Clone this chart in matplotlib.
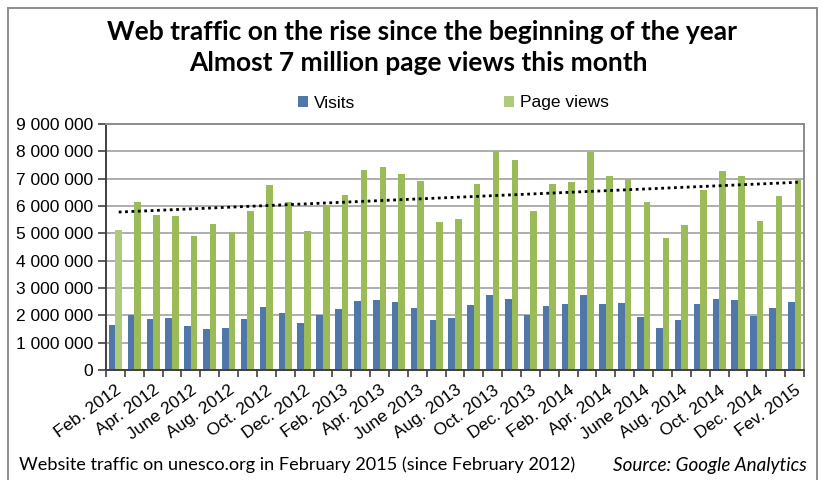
import numpy as np
import matplotlib
matplotlib.use("Agg")
import matplotlib.pyplot as plt
from matplotlib.patches import Rectangle
from matplotlib.ticker import FuncFormatter

# Monthly traffic, Feb. 2012 - Feb. 2015
months = [
    "Feb. 2012", "Mar. 2012", "Apr. 2012", "May 2012", "June 2012", "July 2012",
    "Aug. 2012", "Sep. 2012", "Oct. 2012", "Nov. 2012", "Dec. 2012", "Jan. 2013",
    "Feb. 2013", "Mar. 2013", "Apr. 2013", "May 2013", "June 2013", "July 2013",
    "Aug. 2013", "Sep. 2013", "Oct. 2013", "Nov. 2013", "Dec. 2013", "Jan. 2014",
    "Feb. 2014", "Mar. 2014", "Apr. 2014", "May 2014", "June 2014", "July 2014",
    "Aug. 2014", "Sep. 2014", "Oct. 2014", "Nov. 2014", "Dec. 2014", "Jan. 2015",
    "Fev. 2015",
]

visits = [
    1660000, 2020000, 1860000, 1920000, 1610000, 1490000, 1530000, 1880000,
    2300000, 2090000, 1720000, 2030000, 2240000, 2520000, 2550000, 2480000,
    2270000, 1840000, 1910000, 2380000, 2740000, 2610000, 2010000, 2330000,
    2410000, 2730000, 2410000, 2450000, 1950000, 1520000, 1840000, 2410000,
    2610000, 2570000, 1990000, 2270000, 2500000,
]

page_views = [
    5130000, 6140000, 5660000, 5640000, 4910000, 5330000, 5050000, 5810000,
    6760000, 6140000, 5080000, 6030000, 6410000, 7320000, 7420000, 7170000,
    6910000, 5400000, 5520000, 6810000, 8030000, 7690000, 5800000, 6810000,
    6880000, 7990000, 7090000, 7000000, 6130000, 4820000, 5310000, 6600000,
    7270000, 7100000, 5440000, 6360000, 6990000,
]

y_ticks = list(range(0, 9000001, 1000000))

BLUE = "#4F77AA"
GREEN = "#9BBB59"
GREEN_LIGHT = "#AECB7C"

W, H, DPI = 824, 480, 100
fig = plt.figure(figsize=(W / DPI, H / DPI), dpi=DPI)
fig.patch.set_facecolor("white")

ax = fig.add_axes([106 / W, 1 - 370 / H, (804 - 106) / W, (370 - 124) / H])

x = np.arange(len(months))
bw = 0.35
green_colors = [GREEN_LIGHT] + [GREEN] * (len(months) - 1)
ax.bar(x - bw / 2, visits, width=bw, color=BLUE, label="Visits", zorder=2)
ax.bar(x + bw / 2, page_views, width=bw, color=green_colors, label="Page views", zorder=2)

# Linear trend of page views
coef = np.polyfit(x, page_views, 1)
trend = np.polyval(coef, x)
ax.plot(x + bw / 2, trend, color="black", linestyle=(0, (1, 1.3)), linewidth=2.0, zorder=3)

ax.set_xlim(-0.5, len(months) - 0.5)
ax.set_ylim(0, 9000000)
ax.set_yticks(y_ticks)
ax.yaxis.set_major_formatter(FuncFormatter(lambda v, p: f"{int(v):,}".replace(",", " ")))
ax.grid(axis="y", color="#A8A8A8", linewidth=1.3, zorder=0)
ax.set_axisbelow(True)

# Labels every second month, tick marks between months
label_pos = x[::2]
ax.set_xticks(label_pos)
ax.set_xticklabels([months[i] for i in label_pos], rotation=36, ha="right",
                   rotation_mode="anchor", fontsize=12.5, family="Liberation Sans")
ax.tick_params(axis="x", which="major", length=0, pad=9)
ax.set_xticks(np.arange(-0.5, len(months), 1.0), minor=True)
ax.tick_params(axis="x", which="minor", length=5, width=1.2, color="#404040")
ax.tick_params(axis="y", length=6, width=1.2, color="#404040", pad=3)
for lab in ax.get_yticklabels():
    lab.set_fontsize(12.5)
    lab.set_family("Liberation Sans")

for s in ("left", "bottom"):
    ax.spines[s].set_color("#404040")
    ax.spines[s].set_linewidth(1.4)
for s in ("top", "right"):
    ax.spines[s].set_color("#8C8C8C")
    ax.spines[s].set_linewidth(1.4)

# Title
fig.text(0.512, 1 - 32 / H, "Web traffic on the rise since the beginning of the year",
         ha="center", va="center", fontsize=19, fontweight="bold", family="Lato")
fig.text(0.508, 1 - 63 / H, "Almost 7 million page views this month",
         ha="center", va="center", fontsize=19, fontweight="bold", family="Lato")

# Legend
fig.legend(loc="center", bbox_to_anchor=(0.55, 1 - 103 / H), ncol=2, frameon=False,
           handlelength=0.6, handleheight=0.6, handletextpad=0.3, columnspacing=8.6,
           prop={"family": "Liberation Sans", "size": 12.5})

# Footer
fig.text(19 / W, 1 - 465 / H,
         "Website traffic on unesco.org in February 2015 (since February 2012)",
         ha="left", va="center", fontsize=13.1, family="Lato")
fig.text(807 / W, 1 - 465 / H, "Source: Google Analytics",
         ha="right", va="center", fontsize=13.6, style="italic", family="Lato")

# Outer frame
fig.patches.append(Rectangle((8 / W, -0.05), (817 - 8) / W, 1.05 - 8 / H,
                             transform=fig.transFigure, fill=False,
                             edgecolor="#8C8C8C", linewidth=1.4))

fig.savefig("out.png", dpi=DPI)
